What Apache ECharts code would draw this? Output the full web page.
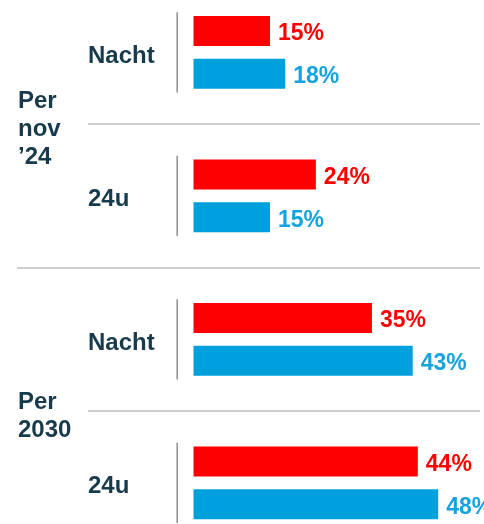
<!DOCTYPE html>
<html><head><meta charset="utf-8">
<script src="https://cdn.jsdelivr.net/npm/echarts@6/dist/echarts.min.js"></script>
<style>html,body{margin:0;padding:0;background:#fff}#c{width:484px;height:524px}</style>
</head><body><div id="c"></div>
<script>
const categories = ['Nacht', '24u', 'Nacht', '24u'];
const groups = ['Per\nnov\n\u201924', 'Per\n2030'];
const redValues = [15, 24, 35, 44];
const blueValues = [18, 15, 43, 48];
const RED = '#FF0000', BLUE = '#00A0DC', NAVY = '#173A4C', GRAY = '#BDBDBD', VGRAY = '#8C8C8C';
const FONT = 'Liberation Sans, Arial, sans-serif';

const txt = { color: NAVY, fontSize: 24, fontWeight: 'bold', fontFamily: FONT, align: 'left' };
const chart = echarts.init(document.getElementById('c'));
chart.setOption({
  animation: false,
  grid: { left: 88, right: 4, top: -19.4, height: 574, containLabel: false, outerBoundsMode: 'none' },
  xAxis: { type: 'value', min: -20.7, max: 56.2, show: false },
  yAxis: [
    {
      type: 'category', data: categories, inverse: true,
      axisLine: { show: false }, axisTick: { show: false },
      axisLabel: {
        align: 'left', margin: 0,
        formatter: v => '{s| }\n{t|' + v + '}',
        rich: { s: { fontSize: 1, lineHeight: 8 }, t: Object.assign({ lineHeight: 28 }, txt) }
      },
      splitLine: { show: true, interval: 0, lineStyle: { color: GRAY, width: 1.5 } }
    },
    {
      type: 'category', data: groups, inverse: true, position: 'left',
      axisLine: { show: false },
      axisTick: { show: true, interval: 0, length: 71, lineStyle: { color: GRAY, width: 1.5 } },
      axisLabel: {
        align: 'left', margin: 70,
        formatter: v => '{s| }\n' + v.split('\n').map(l => '{t|' + l + '}').join('\n'),
        rich: { s: { fontSize: 1, lineHeight: 10 }, t: Object.assign({ lineHeight: 28 }, txt) }
      },
      splitLine: { show: false }
    }
  ],
  series: [
    {
      type: 'custom', silent: true, z: 1,
      data: categories.map((c, i) => [0, i]),
      renderItem: (params, api) => {
        const p = api.coord([0, api.value(1)]);
        const h = api.size([0, 1])[1];
        const x = p[0] - 16.3;
        return { type: 'line', shape: { x1: x, y1: p[1] - h * 0.28, x2: x, y2: p[1] + h * 0.28 }, style: { stroke: VGRAY, lineWidth: 1.5 } };
      }
    },
    {
      type: 'bar', data: redValues, barWidth: 30, barGap: '43%',
      itemStyle: { color: RED },
      label: { show: true, position: 'right', distance: 8, offset: [0, 3], formatter: '{c}%', color: RED, fontSize: 23, fontWeight: 'bold', fontFamily: FONT }
    },
    {
      type: 'bar', data: blueValues, barWidth: 30, barGap: '43%',
      itemStyle: { color: BLUE },
      label: { show: true, position: 'right', distance: 8, offset: [0, 3], formatter: '{c}%', color: '#14A3DF', fontSize: 23, fontWeight: 'bold', fontFamily: FONT }
    }
  ]
});
</script></body></html>
